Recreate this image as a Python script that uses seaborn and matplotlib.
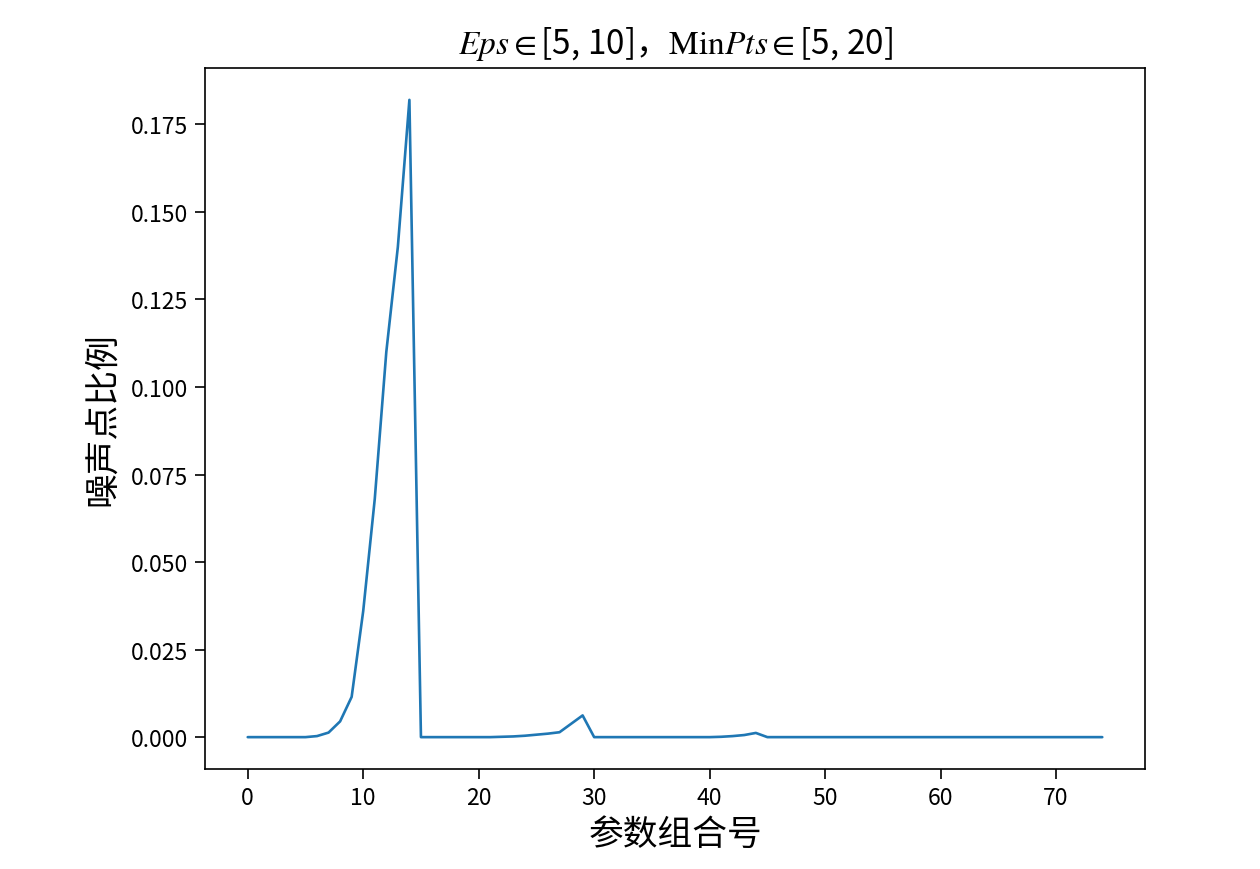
import numpy as np
import pandas as pd
import matplotlib
matplotlib.use("Agg")
import matplotlib.pyplot as plt
import seaborn as sns

# ---- data ----
combo_index = list(range(75))
noise_ratio = (
    [0.0] * 6
    + [0.0003, 0.0013, 0.0045, 0.0115, 0.036, 0.068, 0.110, 0.140, 0.182]
    + [0.0] * 7
    + [0.0001, 0.0002, 0.0004, 0.0007, 0.0010, 0.0014, 0.0038, 0.0062]
    + [0.0] * 11
    + [0.0001, 0.0003, 0.0006, 0.0012]
    + [0.0] * 30
)
title_text = r"$Eps\in$[5, 10]，$\mathrm{Min}Pts\in$[5, 20]"
xlabel_text = "参数组合号"
ylabel_text = "噪声点比例"

sns.set_style("ticks")
plt.rcParams["font.family"] = ["Noto Sans CJK SC", "DejaVu Sans"]
plt.rcParams["mathtext.fontset"] = "stix"
plt.rcParams["axes.unicode_minus"] = False

df = pd.DataFrame({"idx": combo_index, "ratio": noise_ratio})

fig = plt.figure(figsize=(12.6, 8.7), dpi=100)
ax = fig.add_axes([205 / 1260, 1 - 770 / 870, 940 / 1260, 701 / 870])
sns.lineplot(data=df, x="idx", y="ratio", ax=ax, color="#1f77b4", linewidth=1.9)

yt = np.arange(0, 0.176, 0.025)
ax.set_xticks(np.arange(0, 71, 10))
ax.set_yticks(yt)
ax.set_yticklabels([f"{v:.3f}" for v in yt])
ax.tick_params(axis="both", labelsize=16.5, length=7, width=1.2,
               color="black", labelcolor="black", pad=5)
for s in ax.spines.values():
    s.set_visible(True)
    s.set_linewidth(1.2)
    s.set_color("black")

ax.set_xlabel(xlabel_text, fontsize=25, labelpad=6, color="black")
ax.set_ylabel(ylabel_text, fontsize=25, labelpad=8, color="black")
ax.set_title(title_text, fontsize=24, pad=11, color="black")

fig.savefig("out.png", dpi=100)
